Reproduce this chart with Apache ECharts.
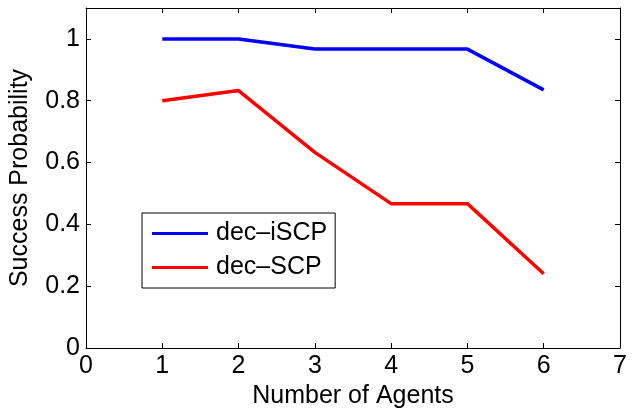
<!DOCTYPE html>
<html>
<head>
<meta charset="utf-8">
<script src="https://cdn.jsdelivr.net/npm/echarts@6/dist/echarts.min.js"></script>
<style>html,body{margin:0;padding:0;background:#fff}#c{width:632px;height:409px}</style>
</head>
<body>
<div id="c"></div>
<script>
var agents = [1, 2, 3, 4, 5, 6];
var decISCP = [1.0, 1.0, 0.967, 0.967, 0.967, 0.835];
var decSCP = [0.8, 0.833, 0.633, 0.467, 0.467, 0.24];
var seriesNames = ['dec\u2013iSCP', 'dec\u2013SCP'];
var xTitle = 'Number of Agents';
var yTitle = 'Success Probability';

var font = 'Liberation Sans, Arial, Helvetica, sans-serif';
var fs = 25;
function pairs(xs, ys) { return xs.map(function (x, i) { return [x, ys[i]]; }); }

var chart = echarts.init(document.getElementById('c'), null, { renderer: 'canvas' });
function axisCommon() {
  return {
    axisLine: { show: true, onZero: false, lineStyle: { color: '#000', width: 1 } },
    axisTick: { show: true, inside: true, length: 5, lineStyle: { color: '#000' } },
    splitLine: { show: false }
  };
}
chart.setOption({
  animation: false,
  backgroundColor: '#fff',
  grid: { left: 86, right: 12, top: 8, bottom: 61, containLabel: false, outerBoundsMode: 'none' },
  legend: {
    orient: 'vertical',
    left: 142, top: 213,
    data: seriesNames,
    icon: 'rect',
    itemWidth: 56, itemHeight: 3,
    itemGap: 9,
    padding: [8, 8, 8, 10],
    borderColor: '#000', borderWidth: 1,
    backgroundColor: '#fff',
    textStyle: { fontFamily: font, fontSize: fs, color: '#000', padding: [0, 0, 0, 3] }
  },
  xAxis: [
    Object.assign(axisCommon(), {
      type: 'value', min: 0, max: 7, interval: 1, position: 'bottom',
      name: xTitle, nameLocation: 'middle', nameGap: 32,
      nameTextStyle: { fontFamily: font, fontSize: fs, color: '#000' },
      axisLabel: { fontFamily: font, fontSize: fs, color: '#000', margin: 6 }
    }),
    Object.assign(axisCommon(), {
      type: 'value', min: 0, max: 7, interval: 1, position: 'top',
      axisLabel: { show: false }
    })
  ],
  yAxis: [
    Object.assign(axisCommon(), {
      type: 'value', min: 0, max: 1.1, interval: 0.2, position: 'left',
      name: yTitle, nameLocation: 'middle', nameGap: 53,
      nameTextStyle: { fontFamily: font, fontSize: fs, color: '#000' },
      axisLabel: { fontFamily: font, fontSize: fs, color: '#000', margin: 6,
        formatter: function (v) { return v > 1.05 ? '' : String(Math.round(v * 10) / 10); } }
    }),
    Object.assign(axisCommon(), {
      type: 'value', min: 0, max: 1.1, interval: 0.2, position: 'right',
      axisLabel: { show: false }
    })
  ],
  series: [
    { name: seriesNames[0], type: 'line', data: pairs(agents, decISCP), symbol: 'none',
      lineStyle: { color: '#0000ff', width: 3.5 }, itemStyle: { color: '#0000ff' } },
    { name: seriesNames[1], type: 'line', data: pairs(agents, decSCP), symbol: 'none',
      lineStyle: { color: '#ff0000', width: 3.5 }, itemStyle: { color: '#ff0000' } }
  ]
});
</script>
</body>
</html>
